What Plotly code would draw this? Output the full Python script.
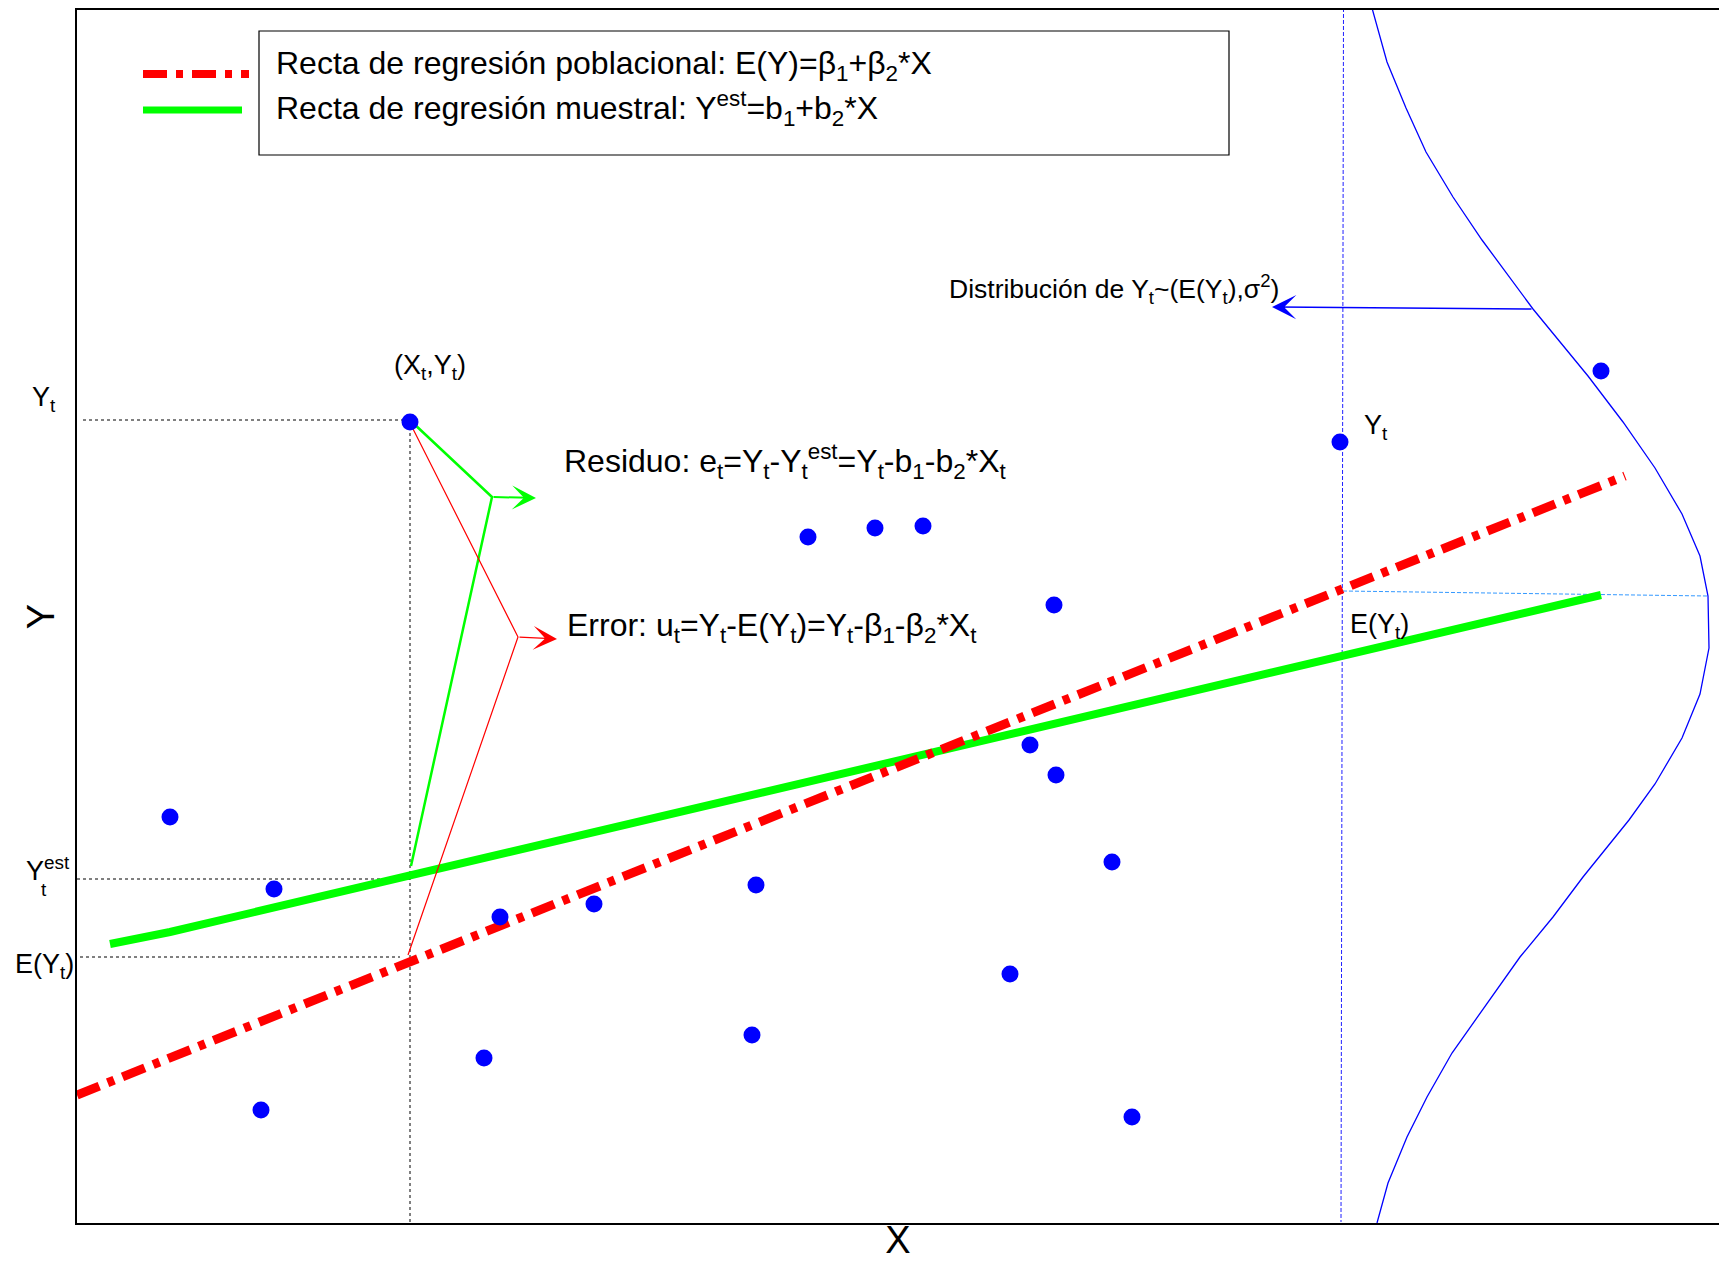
import plotly.graph_objects as go

# ---------------- data (arbitrary units) ----------------
x_obs = [3.33, 0.93, 1.97, 1.84, 4.07, 4.23, 5.17, 6.79, 6.75, 7.31,
         7.98, 8.46, 9.77, 9.53, 9.79, 10.35, 9.33, 10.55, 12.63, 15.24]
y_obs = [8.01, 4.06, 3.34, 1.13, 1.65, 3.06, 3.19, 3.38, 1.88, 6.86,
         6.95, 6.97, 6.18, 4.78, 4.48, 3.61, 2.49, 1.06, 7.81, 8.52]

pop_line_x = [0.0, 15.48]
pop_line_y = [1.28, 7.47]

sample_line_x = [0.33, 0.93, 15.24]
sample_line_y = [2.79, 2.91, 6.28]

dist_curve_x = [12.95, 13.10, 13.29, 13.49, 13.76, 14.05, 14.56, 15.11, 15.46, 15.78,
                16.05, 16.23, 16.31, 16.32, 16.23, 16.05, 15.78, 15.52, 15.06, 14.76,
                14.43, 14.08, 13.75, 13.50, 13.30, 13.11, 13.00]
dist_curve_y = [12.15, 11.61, 11.15, 10.71, 10.26, 9.83, 9.14, 8.47, 8.01, 7.55,
                7.09, 6.67, 6.27, 5.75, 5.29, 4.85, 4.39, 4.03, 3.46, 3.06,
                2.66, 2.16, 1.70, 1.26, 0.86, 0.40, 0.00]

# selected observation and its reference levels
xt = 3.33
yt = 8.03
yt_est = 3.44
e_yt = 2.66

# bracket lines (residual / error) and their arrows
resid_x = [3.35, 4.15, 3.34]
resid_y = [8.01, 7.26, 3.57]
error_x = [3.30, 4.41, 3.31]
error_y = [8.06, 5.86, 2.68]

# right-hand construction
x_right = [12.665, 12.64]
y_right = [12.15, 0.01]
ey_h_x = [12.66, 16.31]
ey_h_y = [6.32, 6.27]

X_MAX = 16.42
Y_MAX = 12.13

FONT = "Liberation Sans, Arial, Helvetica, sans-serif"
fig = go.Figure()

# guide dotted lines
guide = dict(color="black", width=1, dash="dot")
fig.add_trace(go.Scatter(x=[0.06, 3.26], y=[yt, yt], mode="lines", line=guide, hoverinfo="skip"))
fig.add_trace(go.Scatter(x=[xt, xt], y=[7.90, 0.0], mode="lines", line=guide, hoverinfo="skip"))
fig.add_trace(go.Scatter(x=[0.0, xt], y=[yt_est, yt_est], mode="lines", line=guide, hoverinfo="skip"))
fig.add_trace(go.Scatter(x=[0.03, 3.23], y=[e_yt, e_yt], mode="lines", line=guide, hoverinfo="skip"))

# right side blue dashed lines
fig.add_trace(go.Scatter(x=x_right, y=y_right, mode="lines",
                         line=dict(color="#2020ff", width=1, dash="4px,2px"), hoverinfo="skip"))
fig.add_trace(go.Scatter(x=ey_h_x, y=ey_h_y, mode="lines",
                         line=dict(color="#3399ff", width=1, dash="4px,2px"), hoverinfo="skip"))

# distribution curve
fig.add_trace(go.Scatter(x=dist_curve_x, y=dist_curve_y, mode="lines",
                         line=dict(color="#0000ff", width=1.3), hoverinfo="skip"))

# regression lines
fig.add_trace(go.Scatter(x=sample_line_x, y=sample_line_y, mode="lines",
                         line=dict(color="#00ff00", width=8), hoverinfo="skip"))
fig.add_trace(go.Scatter(x=pop_line_x, y=pop_line_y, mode="lines",
                         line=dict(color="#ff0000", width=9, dash="24px,9px,7px,9px"),
                         hoverinfo="skip"))

# bracket lines
fig.add_trace(go.Scatter(x=resid_x, y=resid_y, mode="lines",
                         line=dict(color="#00ff00", width=2.5), hoverinfo="skip"))
fig.add_trace(go.Scatter(x=error_x, y=error_y, mode="lines",
                         line=dict(color="#ff0000", width=1.2), hoverinfo="skip"))

# observations
fig.add_trace(go.Scatter(x=x_obs, y=y_obs, mode="markers",
                         marker=dict(color="#0000ff", size=17, line=dict(width=0)),
                         hoverinfo="skip"))

# legend (manual, MATLAB style)
shapes = [
    dict(type="rect", xref="x", yref="y", x0=1.82, x1=11.52, y0=10.68, y1=11.92,
         line=dict(color="black", width=1.2), fillcolor="white", layer="below"),
    dict(type="line", xref="x", yref="y", x0=0.66, x1=1.72, y0=11.49, y1=11.49,
         line=dict(color="#ff0000", width=8, dash="24px,9px,7px,9px")),
    dict(type="line", xref="x", yref="y", x0=0.66, x1=1.65, y0=11.13, y1=11.13,
         line=dict(color="#00ff00", width=7)),
]

ann = []
def txt(x, y, s, size, xref="x", xanchor="left", yanchor="middle", **kw):
    ann.append(dict(x=x, y=y, xref=xref, yref="y", text=s, showarrow=False,
                    xanchor=xanchor, yanchor=yanchor,
                    font=dict(family=FONT, size=size, color="black"), **kw))

txt(1.97, 11.58, "Recta de regresión poblacional: E(Y)=β<sub>1</sub>+β<sub>2</sub>*X", 32)
txt(1.97, 11.15, "Recta de regresión muestral: Y<sup>est</sup>=b<sub>1</sub>+b<sub>2</sub>*X", 32)
txt(4.85, 7.62, "Residuo: e<sub>t</sub>=Y<sub>t</sub>-Y<sub>t</sub><sup>est</sup>=Y<sub>t</sub>-b<sub>1</sub>-b<sub>2</sub>*X<sub>t</sub>", 32)
txt(4.88, 5.96, "Error: u<sub>t</sub>=Y<sub>t</sub>-E(Y<sub>t</sub>)=Y<sub>t</sub>-β<sub>1</sub>-β<sub>2</sub>*X<sub>t</sub>", 32)
txt(8.70, 9.34, "Distribución de Y<sub>t</sub>~(E(Y<sub>t</sub>),σ<sup>2</sup>)", 26.5)
txt(3.15, 8.56, "(X<sub>t</sub>,Y<sub>t</sub>)", 27)
txt(12.85, 7.96, "Y<sub>t</sub>", 27)
txt(12.71, 5.97, "E(Y<sub>t</sub>)", 27)

# labels left of the y axis (paper x, since they lie outside the axis range)
PX = 100.0 / (X_MAX * 100.0)   # paper units per data unit
txt(-0.47 * PX, 8.24, "Y<sub>t</sub>", 27, xref="paper")
txt(-0.53 * PX, 3.54, "Y<sup>est</sup>", 27, xref="paper")
txt(-0.38 * PX, 3.34, "t", 19, xref="paper")
txt(-0.64 * PX, 2.57, "E(Y<sub>t</sub>)", 27, xref="paper")

# arrows
def arrow(x0, y0, x1, y1, color, width, size):
    ann.append(dict(x=x1, y=y1, ax=x0, ay=y0, xref="x", yref="y", axref="x", ayref="y",
                    text="", showarrow=True, arrowhead=3, arrowsize=size,
                    arrowwidth=width, arrowcolor=color, standoff=0, startstandoff=0))

arrow(resid_x[1], resid_y[1], 4.59, 7.25, "#00ff00", 2, 2.0)
arrow(error_x[1], error_y[1], 4.80, 5.84, "#ff0000", 1.2, 3.3)
arrow(14.56, 9.14, 11.95, 9.16, "#0000ff", 1.5, 2.7)

fig.update_layout(
    width=1711, height=1253,
    margin=dict(l=69, r=0, t=2, b=38, autoexpand=False),
    paper_bgcolor="white", plot_bgcolor="white",
    showlegend=False,
    shapes=shapes, annotations=ann,
    font=dict(family=FONT, color="black"),
    xaxis=dict(range=[0, X_MAX], showgrid=False, zeroline=False, showticklabels=False,
               ticks="", showline=True, linecolor="black", linewidth=2, mirror=True,
               automargin=False,
               title=dict(text="X", font=dict(size=38, family=FONT), standoff=16)),
    yaxis=dict(range=[0, Y_MAX], showgrid=False, zeroline=False, showticklabels=False,
               ticks="", showline=True, linecolor="black", linewidth=2, mirror=False,
               automargin=False,
               title=dict(text="Y", font=dict(size=38, family=FONT), standoff=9)),
)

fig.write_html("out.html")
